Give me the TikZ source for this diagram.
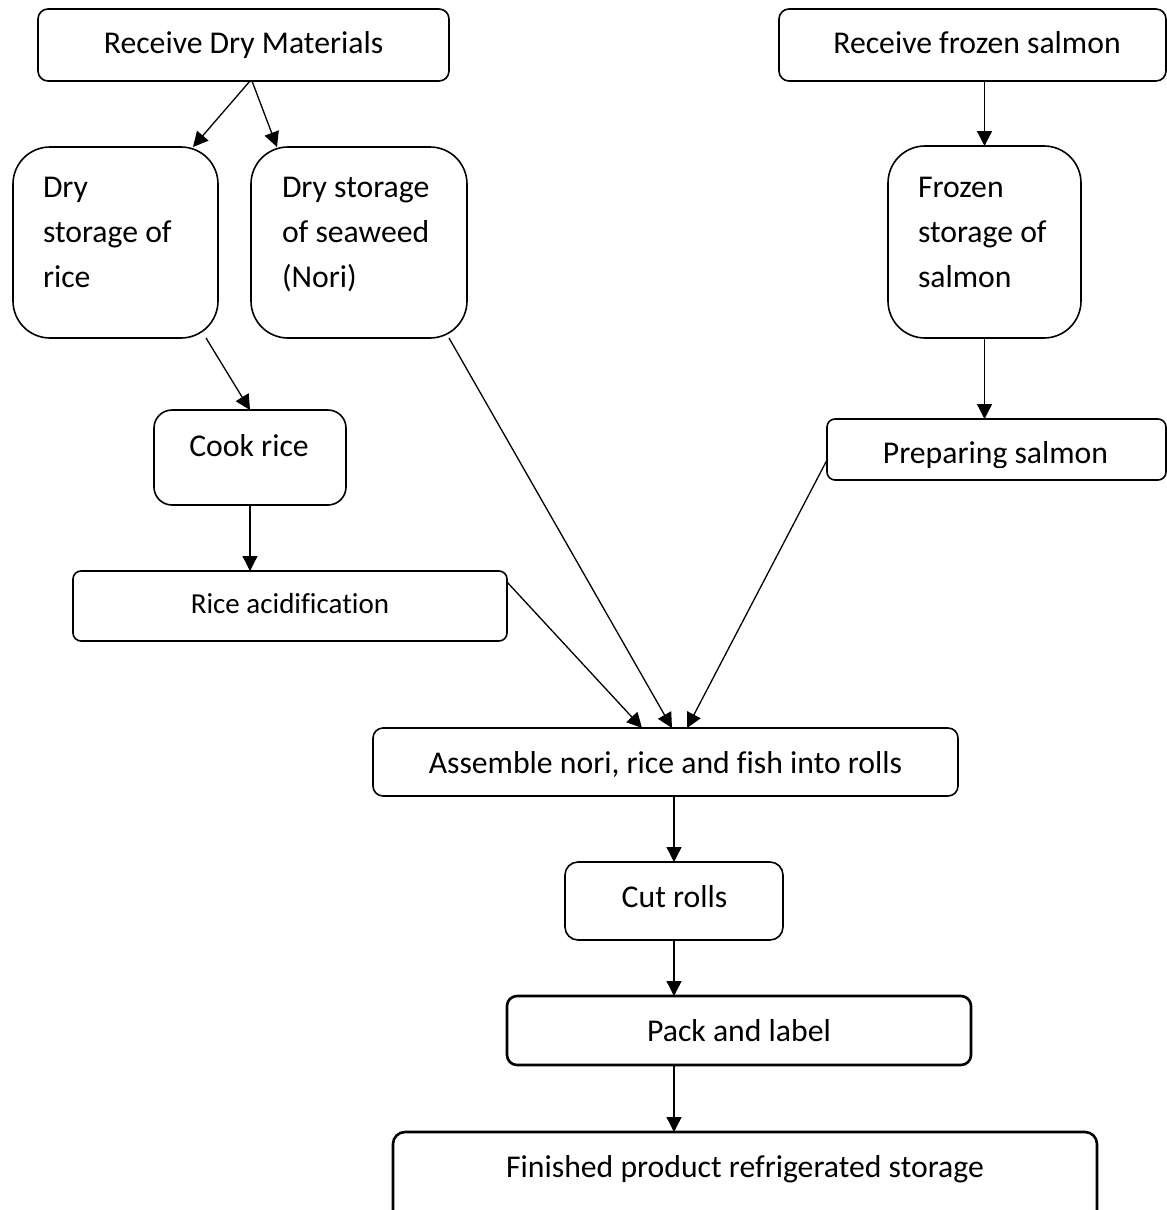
\documentclass[tikz,border=0pt]{standalone}
\usepackage{fontspec}
\setmainfont{Carlito}[Ligatures=CommonOff]
\usetikzlibrary{arrows.meta,calc}
\tikzset{
  box/.style={draw, line width=1.6pt, rounded corners=#1, inner sep=0pt, outer sep=0pt},
  box/.default=10pt,
  thickbox/.style={box=#1, line width=2.6pt},
  lbl/.style={inner sep=0pt, outer sep=0pt, font=\fontsize{31.7}{45}\selectfont, anchor=base},
  smalllbl/.style={lbl, font=\fontsize{29}{40}\selectfont},
  arr/.style={-{Triangle[length=15pt,width=15pt]}, line width=1.3pt},
}
\begin{document}
\begin{tikzpicture}[x=1pt,y=-1pt]
\path[use as bounding box, clip] (0,0) rectangle (1167,1210);
% boxes
\node[box=10pt, minimum width=411pt, minimum height=72pt] (dmat) at (243.5,45) {};
\node[lbl] (dmatT) at (243.5,53) {Receive Dry Materials};
\node[box=10pt, minimum width=387pt, minimum height=72pt] (fsal) at (972.5,45) {};
\node[lbl] (fsalT) at (977,53) {Receive frozen salmon};
\node[box=37pt, minimum width=205pt, minimum height=191pt] (drice) at (115.5,242.5) {};
\node[lbl, anchor=base west] (driceT) at (43,197) {\vtop{\hbox{Dry}\hbox{storage of}\hbox{rice}}};
\node[box=37pt, minimum width=216pt, minimum height=191pt] (dsea) at (359,242.5) {};
\node[lbl, anchor=base west] (dseaT) at (282,197) {\vtop{\hbox{Dry storage}\hbox{of seaweed}\hbox{(Nori)}}};
\node[box=37pt, minimum width=193pt, minimum height=192pt] (fstor) at (984.5,242) {};
\node[lbl, anchor=base west] (fstorT) at (918,197) {\vtop{\hbox{Frozen}\hbox{storage of}\hbox{salmon}}};
\node[box=18pt, minimum width=192pt, minimum height=95pt] (cook) at (250,457.5) {};
\node[lbl] (cookT) at (249,456) {Cook rice};
\node[box=8pt, minimum width=339pt, minimum height=61pt] (prep) at (996.5,449.5) {};
\begin{scope}
  \clip (827,419) rectangle (1166,467);
  \node[lbl] (prepT) at (995.5,463) {Preparing salmon};
\end{scope}
\node[box=8pt, minimum width=434pt, minimum height=70pt] (acid) at (290,606) {};
\node[smalllbl] (acidT) at (290,613) {Rice acidification};
\node[box=10pt, minimum width=585pt, minimum height=68pt] (assem) at (665.5,762) {};
\node[lbl] (assemT) at (665.5,773) {Assemble nori, rice and fish into rolls};
\node[box=13pt, minimum width=218pt, minimum height=78pt] (cut) at (674,901) {};
\node[lbl] (cutT) at (674.5,907) {Cut rolls};
\node[thickbox=10pt, minimum width=464pt, minimum height=69pt] (pack) at (739,1030.5) {};
\node[lbl] (packT) at (739,1041) {Pack and label};
\node[thickbox=12pt, minimum width=704pt, minimum height=96pt] (fin) at (745,1180) {};
\node[lbl] (finT) at (745,1177) {Finished product refrigerated storage};
% connectors
\draw[arr] ($(dmat.south)+(6.5,0)$) -- ($(drice.north east)+(-25,0)$);
\draw[arr] ($(dmat.south)+(8.5,0)$) -- ($(dsea.north west)+(26,0)$);
\draw[arr] (fstor.north |- fsal.south) -- (fstor.north);
\draw[arr] ($(drice.south east)+(-12,0)$) -- (cook.north);
\draw[arr] (cook.south) -- (cook.south |- acid.north);
\draw[arr] ($(dsea.south east)+(-18,0)$) -- ($(assem.north)+(6.5,0)$);
\draw[arr] ($(acid.north east)+(0,11)$) -- ($(assem.north)+(-23.5,0)$);
\draw[arr] ($(prep.west)+(0,10.5)$) -- ($(assem.north)+(21.5,0)$);
\draw[arr] (fstor.south) -- (fstor.south |- prep.north);
\draw[arr] (cut.north |- assem.south) -- (cut.north);
\draw[arr] (cut.south) -- (cut.south |- pack.north);
\coordinate (pk) at (cut.south |- pack.south);
\draw[arr] (pk) -- (pk |- fin.north);
\end{tikzpicture}
\end{document}
